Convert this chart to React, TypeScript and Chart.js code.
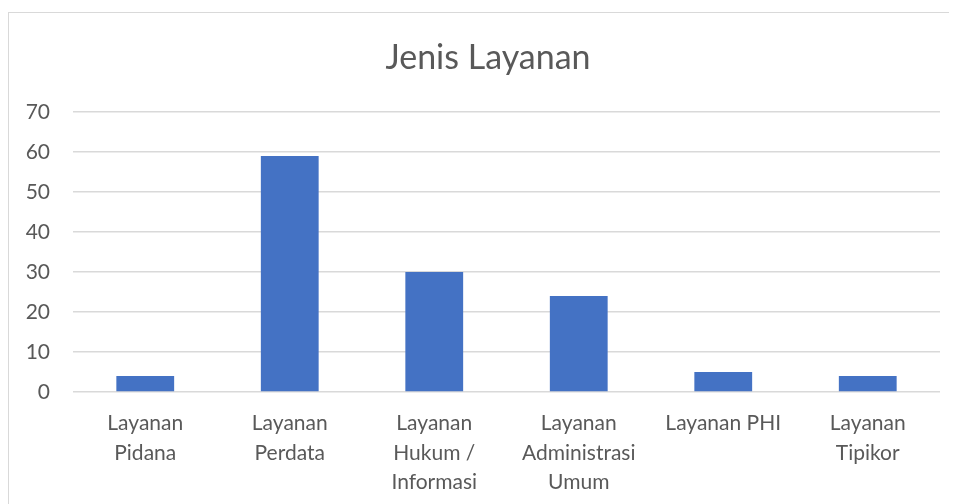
import React, { useEffect, useRef } from "react";
import { Chart, registerables } from "chart.js";
Chart.register(...registerables);

const title = "Jenis Layanan";
const categories: (string | string[])[] = [
  ["Layanan", "Pidana"],
  ["Layanan", "Perdata"],
  ["Layanan", "Hukum /", "Informasi"],
  ["Layanan", "Administrasi", "Umum"],
  "Layanan PHI",
  ["Layanan", "Tipikor"],
];
const values = [4, 59, 30, 24, 5, 4];
const yMin = 0;
const yMax = 70;
const yStep = 10;

const FONT = "Lato, 'Open Sans', sans-serif";

const titlePlugin = {
  id: "centerTitle",
  afterDraw(chart: any) {
    const ctx = chart.ctx;
    ctx.save();
    ctx.fillStyle = "#595959";
    ctx.font = `normal 34px ${FONT}`;
    ctx.textAlign = "center";
    ctx.textBaseline = "middle";
    ctx.fillText(title, chart.width / 2, 45);
    ctx.restore();
  },
};

export default function App() {
  const ref = useRef<HTMLCanvasElement>(null);
  useEffect(() => {
    if (!ref.current) return;
    const chart = new Chart(ref.current, {
      type: "bar",
      data: {
        labels: categories,
        datasets: [
          {
            data: values,
            backgroundColor: "#4472C4",
            categoryPercentage: 1,
            barPercentage: 0.4,
          },
        ],
      },
      options: {
        animation: false,
        responsive: false,
        layout: { padding: { left: 0, right: 27, top: 99, bottom: 0 } },
        plugins: {
          legend: { display: false },
          tooltip: { enabled: false },
          title: { display: false },
        },
        scales: {
          x: {
            grid: { display: false, drawTicks: false },
            border: { display: false },
            ticks: {
              color: "#595959",
              font: { family: FONT, size: 21, lineHeight: 1.4 },
              padding: 17,
              maxRotation: 0,
              autoSkip: false,
            },
            afterFit: (s: any) => {
              s.height = 113;
            },
          },
          y: {
            min: yMin,
            max: yMax,
            grid: { color: "#d9d9d9", lineWidth: 1.5, drawTicks: false },
            border: { display: false },
            ticks: {
              stepSize: yStep,
              color: "#595959",
              font: { family: FONT, size: 21 },
              padding: 23,
            },
            afterFit: (s: any) => {
              s.width = 64;
            },
          },
        },
      },
      plugins: [titlePlugin],
    });
    return () => chart.destroy();
  }, []);
  return (
    <div style={{ marginTop: 4, width: 949, height: 492, overflow: "hidden" }}>
      <div
        style={{
          width: 1000,
          height: 520,
          borderLeft: "1px solid #d9d9d9",
          borderTop: "1px solid #d9d9d9",
          boxSizing: "border-box",
          background: "#fff",
        }}
      >
        <canvas ref={ref} width={958} height={492} style={{ display: "block" }} />
      </div>
    </div>
  );
}
